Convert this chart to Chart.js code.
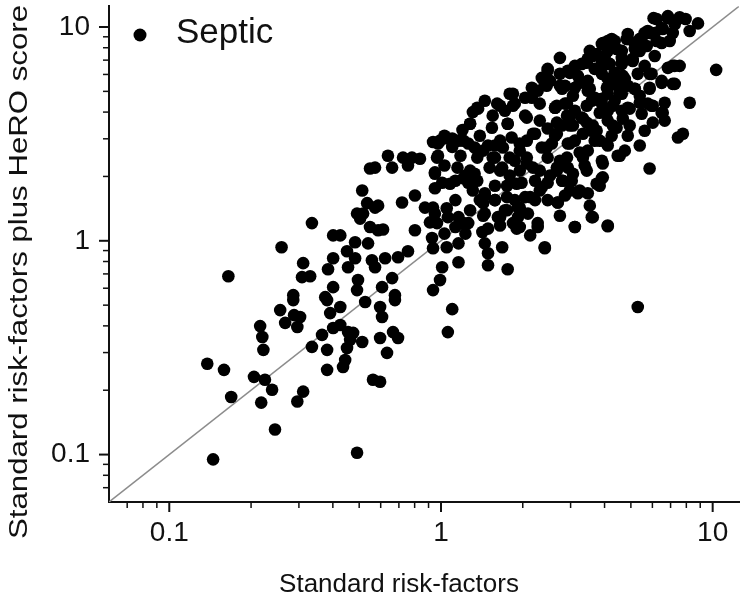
<!DOCTYPE html>
<html>
<head>
<meta charset="utf-8">
<script src="https://cdn.jsdelivr.net/npm/chart.js@4.4.0/dist/chart.umd.min.js"></script>
<style>
  html, body { margin: 0; padding: 0; background: #fff; }
</style>
</head>
<body>
<canvas id="septic" width="750" height="602"></canvas>
<script>
var septicX = [
  0.138, 0.159, 0.169, 0.145, 0.216, 0.220, 0.222, 0.205, 0.225, 0.239,
  0.218, 0.245, 0.256, 0.267, 0.288, 0.303, 0.296, 0.311, 0.296, 0.335,
  0.365, 0.381, 0.381, 0.391, 0.426, 0.401, 0.426, 0.455, 0.463, 0.451,
  0.444, 0.436, 0.475, 0.513, 0.491, 0.526, 0.381, 0.286, 0.562, 0.597,
  0.607, 0.597, 0.666, 0.695, 0.633, 0.597, 0.677, 1.10, 1.06, 5.30,
  0.165, 0.259, 0.335, 0.311, 0.308, 0.330, 0.286, 0.375, 0.384, 0.401,
  0.401, 0.426, 0.451, 0.483, 0.491, 0.517, 0.504, 0.535, 0.513, 0.548,
  0.548, 0.539, 0.483, 0.495, 0.491, 0.557, 0.401, 0.455, 6.06, 6.84,
  7.56, 8.83, 6.49, 7.13, 6.12, 5.77, 5.48, 6.95, 6.49, 5.17,
  4.87, 4.63, 4.36, 4.11, 3.91, 4.11, 3.74, 3.47, 3.91, 5.08,
  6.12, 4.63, 4.36, 4.11, 4.75, 4.87, 3.91, 3.68, 2.74, 2.47,
  2.93, 3.19, 3.47, 2.35, 2.41, 2.79, 3.11, 3.47, 3.68, 4.11,
  4.36, 7.25, 6.84, 10.3, 5.96, 5.86, 5.17, 6.49, 7.13, 8.23,
  5.96, 6.49, 5.48, 4.87, 4.63, 4.43, 4.87, 5.39, 7.45, 7.77,
  5.86, 4.47, 4.11, 3.91, 3.94, 3.74, 3.47, 3.24, 3.59, 4.11,
  3.11, 2.69, 2.41, 2.27, 1.90, 1.76, 1.49, 1.49, 1.16, 1.01,
  0.992, 0.935, 0.677, 0.661, 0.607, 0.572, 0.623, 0.695, 0.756, 0.935,
  1.05, 1.03, 0.927, 0.802, 0.911, 0.612, 0.572, 0.719, 0.802, 0.873,
  0.950, 1.05, 1.16, 1.26, 1.13, 0.950, 1.01, 1.13, 1.26, 1.33,
  1.23, 1.45, 1.45, 1.62, 1.42, 1.92, 2.09, 2.22, 1.87, 1.58,
  0.950, 0.967, 0.975, 1.06, 1.16, 1.26, 1.33, 0.572, 0.638, 0.725,
  0.782, 0.837, 0.756, 0.661, 0.587, 0.587, 1.28, 1.37, 1.55, 1.54,
  1.76, 1.72, 1.87, 1.84, 2.16, 2.27, 2.63, 2.86, 3.11, 3.30,
  2.79, 2.47, 2.22, 2.07, 1.82, 1.69, 1.58, 1.51, 1.68, 1.87,
  2.07, 2.18, 2.47, 2.67, 2.93, 2.79, 3.03, 3.24, 2.93, 3.33,
  3.59, 3.68, 3.47, 2.56, 2.35, 1.98, 1.75, 2.35, 2.47, 1.92,
  1.72, 2.04, 1.45, 1.68, 1.16, 1.23, 1.13, 4.11, 3.91, 3.59,
  4.11, 4.63, 5.77, 6.66, 2.74, 2.16, 2.04, 4.87, 5.62, 7.25,
  6.22, 4.63, 4.11, 3.30, 4.11, 5.30, 1.39, 1.49, 1.65, 1.95,
  1.79, 1.95, 2.22, 2.52, 1.58, 1.39, 1.28, 1.65, 2.13, 2.74,
  2.31, 2.04, 1.65, 1.45, 1.20, 1.10, 1.18, 1.03, 0.935, 1.31,
  1.03, 2.98, 2.63, 3.11, 2.74, 3.38, 3.84, 2.86, 3.53, 2.52,
  2.86, 4.47, 5.39, 4.95, 5.62, 6.66, 3.84, 4.25, 4.75, 3.53,
  3.11, 5.39, 5.62, 8.23, 7.95,
  1.36, 1.28, 1.76, 0.992, 1.10, 1.21, 0.975, 0.950, 1.08, 1.21,
  1.36, 1.45, 1.58, 0.935, 0.967, 1.06, 1.21, 1.43, 1.49, 1.65,
  1.84, 1.95, 2.13, 2.27, 2.41, 2.69, 3.19, 3.62, 3.11, 4.11,
  3.91, 4.55, 4.08, 3.74, 3.44, 2.98, 2.63, 2.91, 2.31, 2.07,
  1.84, 1.61, 1.79, 1.55, 1.65, 1.79, 1.95, 2.18, 2.45, 2.67,
  2.98, 3.33, 2.91, 2.67, 2.31, 2.07, 1.90, 2.31, 2.47, 2.81,
  3.06, 3.44, 3.94, 2.98, 1.75, 1.75, 1.95, 1.43, 1.31, 1.58,
  1.43, 1.36, 1.28, 1.15,
  6.22, 6.84, 7.56, 5.86, 6.55, 5.39, 5.72, 5.17, 4.83, 4.25,
  3.94, 4.01, 4.43, 3.62, 3.44, 3.78, 4.18, 4.63, 5.08, 4.67,
  4.36, 4.08, 4.55, 3.91, 3.53, 3.24, 2.98, 2.47, 2.45, 2.74,
  3.06, 3.44, 2.67, 2.91, 3.33, 3.84, 4.29, 4.95, 5.39, 6.02,
  6.55, 5.17, 5.86, 5.86, 6.49, 7.25, 7.13, 7.56, 6.02, 4.67,
  4.29, 3.62, 3.06, 2.67
];
var septicY = [
  0.266, 0.249, 0.186, 0.095, 0.399, 0.355, 0.309, 0.231, 0.224, 0.201,
  0.175, 0.131, 0.474, 0.413, 0.449, 0.440, 0.395, 0.197, 0.177, 0.319,
  0.363, 0.309, 0.249, 0.459, 0.490, 0.391, 0.404, 0.374, 0.344, 0.315,
  0.277, 0.257, 0.371, 0.336, 0.102, 0.517, 0.528, 0.528, 0.224, 0.490,
  0.440, 0.351, 0.374, 0.351, 0.299, 0.219, 0.528, 0.479, 0.374, 0.490,
  0.683, 0.933, 1.21, 0.786, 0.676, 0.683, 0.557, 0.545, 0.736, 0.829,
  1.06, 1.06, 0.894, 0.984, 1.34, 1.34, 1.27, 1.50, 1.72, 2.18,
  1.16, 0.973, 0.829, 0.655, 0.588, 0.811, 0.607, 0.752, 11.0, 11.0,
  11.1, 10.4, 9.89, 9.38, 9.38, 9.58, 8.88, 8.60, 8.42, 8.33,
  8.79, 7.73, 8.60, 8.60, 8.33, 7.73, 7.48, 7.10, 6.80, 6.94,
  7.32, 6.72, 6.10, 5.72, 5.72, 5.31, 6.04, 6.37, 7.17, 6.24,
  6.24, 5.91, 5.60, 5.78, 5.42, 5.14, 5.20, 5.03, 4.67, 4.87,
  4.52, 6.58, 6.44, 6.30, 6.04, 5.14, 5.14, 5.60, 5.42, 4.42,
  4.28, 3.97, 3.93, 4.19, 4.06, 3.38, 3.10, 2.79, 3.04, 3.17,
  2.18, 2.50, 2.79, 2.37, 1.98, 1.85, 1.67, 1.72, 1.29, 1.17,
  1.16, 1.51, 0.923, 1.16, 1.14, 0.736, 0.874, 0.769, 0.794, 0.752,
  0.655, 0.588, 0.557, 0.669, 0.607, 0.752, 0.829, 0.838, 0.894, 0.923,
  0.933, 1.08, 1.03, 1.12, 1.22, 1.13, 1.43, 1.51, 1.63, 1.43,
  1.34, 1.42, 1.29, 1.21, 1.55, 1.76, 1.87, 1.91, 1.87, 2.06,
  2.02, 1.67, 1.34, 1.29, 1.10, 1.29, 1.34, 1.55, 1.55, 1.55,
  2.06, 2.45, 2.85, 3.01, 2.94, 2.85, 2.73, 2.20, 2.50, 2.45,
  2.45, 2.42, 2.25, 2.20, 1.46, 1.12, 3.53, 4.15, 3.85, 3.38,
  3.53, 4.06, 4.38, 4.87, 4.67, 5.03, 4.19, 4.38, 4.06, 3.77,
  3.46, 3.35, 3.17, 2.94, 3.04, 2.73, 2.45, 2.20, 2.20, 2.37,
  2.45, 2.20, 2.45, 2.13, 2.20, 1.91, 1.91, 2.59, 2.85, 3.17,
  3.27, 2.94, 2.64, 2.85, 2.73, 1.87, 1.81, 1.78, 1.55, 1.43,
  1.39, 1.60, 0.973, 0.933, 0.973, 1.08, 1.16, 4.06, 4.38, 4.52,
  3.65, 4.87, 4.38, 4.42, 6.04, 5.20, 4.67, 9.28, 9.38, 10.3,
  8.60, 7.17, 6.72, 6.72, 5.20, 6.04, 3.10, 2.79, 2.94, 2.64,
  2.02, 2.13, 1.91, 2.02, 1.81, 1.55, 1.39, 1.18, 1.06, 1.31,
  3.65, 3.85, 4.28, 4.52, 3.30, 2.75, 2.50, 2.25, 2.90, 4.00,
  3.10, 3.46, 3.10, 2.94, 2.37, 2.25, 1.81, 1.63, 1.46, 5.60,
  5.31, 5.31, 4.77, 3.46, 3.27, 3.65, 2.94, 3.10, 2.64, 7.73,
  6.58, 7.73, 6.58, 9.58, 10.9,
  4.19, 3.53, 3.53, 2.94, 3.01, 2.94, 2.50, 2.09, 1.85, 1.96,
  1.91, 1.63, 1.55, 1.43, 1.21, 1.29, 1.21, 1.31, 1.14, 1.29,
  1.21, 1.43, 1.60, 1.21, 0.933, 1.51, 1.67, 1.29, 1.16, 1.18,
  1.96, 2.50, 2.85, 3.27, 3.57, 3.77, 4.19, 4.38, 4.38, 3.77,
  4.28, 4.38, 4.87, 2.45, 2.13, 2.45, 2.85, 3.17, 2.73, 3.17,
  2.85, 2.45, 2.45, 2.20, 2.13, 2.30, 1.85, 1.72, 1.87, 1.91,
  2.06, 2.13, 2.30, 1.72, 1.60, 1.39, 1.16, 1.50, 1.72, 2.79,
  2.64, 2.45, 2.13, 2.20,
  10.9, 11.25, 11.0, 9.38, 9.79, 8.79, 8.15, 7.89, 8.79, 8.79,
  8.42, 7.32, 7.89, 7.32, 6.80, 6.37, 6.72, 6.80, 7.10, 5.91,
  5.60, 5.20, 4.92, 4.62, 5.14, 5.48, 6.10, 6.37, 5.31, 5.31,
  4.77, 4.28, 4.28, 3.85, 3.73, 3.97, 4.28, 4.15, 4.42, 4.28,
  3.97, 5.14, 5.20, 6.04, 5.48, 5.42, 6.58, 6.58, 3.57, 3.73,
  3.46, 3.46, 3.46, 3.57
];
var identityLine = [0.06, 12.5];
var tickValues = [0.07, 0.08, 0.09, 0.1, 0.2, 0.3, 0.4, 0.5, 0.6, 0.7, 0.8, 0.9,
  1, 2, 3, 4, 5, 6, 7, 8, 9, 10];
var majorTicks = [0.1, 1, 10];
var seriesName = 'Septic';
var xTitle = 'Standard risk-factors';
var yTitle = 'Standard risk-factors plus HeRO score';

var fontFamily = "'Liberation Sans', Arial, sans-serif";
Chart.defaults.font.family = fontFamily;
Chart.defaults.color = '#111';

var points = septicX.map(function(x, i) { return { x: x, y: septicY[i] }; });

function useOwnTicks(scale) {
  scale.ticks = tickValues.map(function(v) { return { value: v }; });
}
function majorLabel(v) {
  return majorTicks.indexOf(v) >= 0 ? String(v) : '';
}

// tick marks, axis titles and the legend are painted here
var decor = {
  id: 'decor',
  afterDraw: function(chart) {
    var ctx = chart.ctx;
    var xs = chart.scales.x, ys = chart.scales.y;
    var area = chart.chartArea;
    ctx.save();
    ctx.strokeStyle = '#111';
    tickValues.forEach(function(v) {
      var major = majorTicks.indexOf(v) >= 0;
      var len = major ? 10 : 6;
      ctx.lineWidth = major ? 2 : 1.5;
      var px = xs.getPixelForValue(v);
      ctx.beginPath();
      ctx.moveTo(px, area.bottom);
      ctx.lineTo(px, area.bottom + len);
      ctx.stroke();
      var py = ys.getPixelForValue(v);
      ctx.beginPath();
      ctx.moveTo(area.left, py);
      ctx.lineTo(area.left - len, py);
      ctx.stroke();
    });

    ctx.fillStyle = '#111';
    ctx.font = '26px ' + fontFamily;
    ctx.textAlign = 'center';
    ctx.textBaseline = 'alphabetic';
    ctx.fillText(xTitle, 399, 592);

    ctx.save();
    ctx.translate(27, 272);
    ctx.rotate(-Math.PI / 2);
    ctx.scale(1.2, 1);
    ctx.font = '26px ' + fontFamily;
    ctx.fillText(yTitle, 0, 0);
    ctx.restore();

    // legend
    ctx.beginPath();
    ctx.arc(140, 35, 6.5, 0, Math.PI * 2);
    ctx.fillStyle = '#000';
    ctx.fill();
    ctx.fillStyle = '#111';
    ctx.font = '35px ' + fontFamily;
    ctx.textAlign = 'left';
    ctx.fillText(seriesName, 176, 43);
    ctx.restore();
  }
};

var ctx = document.getElementById('septic').getContext('2d');
var chart = new Chart(ctx, {
  type: 'scatter',
  data: {
    datasets: [{
      label: seriesName,
      data: points,
      backgroundColor: '#000',
      borderWidth: 0,
      pointRadius: 6.3,
      pointHoverRadius: 6.3
    }, {
      type: 'line',
      label: 'identity',
      data: identityLine.map(function(v) { return { x: v, y: v }; }),
      borderColor: '#8c8c8c',
      borderWidth: 1.5,
      pointRadius: 0,
      fill: false
    }]
  },
  options: {
    responsive: false,
    animation: false,
    layout: { padding: { top: 5, right: 11, left: 0, bottom: 0 } },
    plugins: {
      legend: { display: false },
      tooltip: { enabled: false }
    },
    scales: {
      x: {
        type: 'logarithmic',
        min: 0.06,
        max: 12.5,
        afterFit: function(s) { s.height = 100; s.paddingLeft = 0; s.paddingRight = 0; },
        afterBuildTicks: useOwnTicks,
        grid: { drawOnChartArea: false, drawTicks: true, tickLength: 10, tickColor: 'rgba(0,0,0,0)' },
        border: { color: '#111', width: 2 },
        ticks: { autoSkip: false, maxRotation: 0, padding: 4, font: { size: 28 }, callback: majorLabel }
      },
      y: {
        type: 'logarithmic',
        min: 0.06,
        max: 12.5,
        afterFit: function(s) { s.width = 109; s.paddingTop = 0; s.paddingBottom = 0; },
        afterBuildTicks: useOwnTicks,
        grid: { drawOnChartArea: false, drawTicks: true, tickLength: 10, tickColor: 'rgba(0,0,0,0)' },
        border: { color: '#111', width: 2 },
        ticks: { autoSkip: false, padding: 9, font: { size: 28 }, callback: majorLabel }
      }
    }
  },
  plugins: [decor]
});
</script>
</body>
</html>
